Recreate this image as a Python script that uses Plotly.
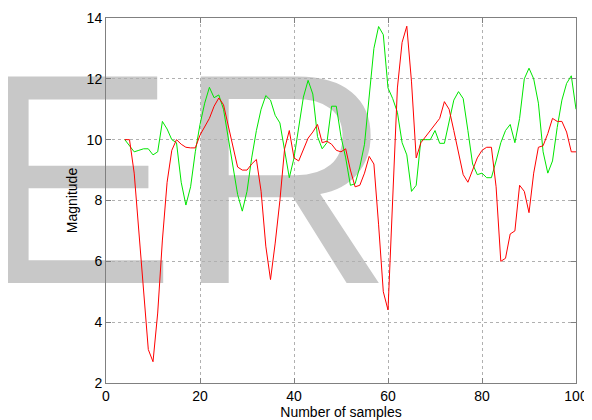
import plotly.graph_objects as go

# Sample index (x) and the two measured series
samples = list(range(4, 101))

red_values = [
    10.0, 10.0, 8.9, 7.0, 4.85, 3.1, 2.7, 4.3, 6.7, 8.6,          # 4-13
    9.65, 10.0, 9.85, 9.75, 9.73, 9.73, 10.15, 10.45, 10.7, 11.1,  # 14-23
    11.37, 11.15, 10.5, 9.8, 9.1, 9.0, 9.0, 9.2, 9.35, 8.3,        # 24-33
    6.5, 5.4, 6.6, 8.0, 9.7, 10.3, 9.4, 9.3, 9.7, 10.05,           # 34-43
    10.25, 10.5, 9.9, 9.95, 9.85, 9.65, 9.6, 9.7, 9.0, 8.45,       # 44-53
    8.5, 8.9, 9.45, 9.2, 7.2, 5.0, 4.4, 8.2, 11.7, 13.2,           # 54-63
    13.73, 11.9, 9.4, 9.9, 10.1, 10.3, 10.5, 10.7, 11.25, 11.0,    # 64-73
    10.3, 9.6, 8.85, 8.6, 9.0, 9.4, 9.65, 9.75, 9.75, 8.45,        # 74-83
    6.0, 6.1, 6.9, 7.0, 8.5, 8.3, 7.6, 8.9, 9.75, 9.8,             # 84-93
    10.2, 10.7, 10.6, 10.6, 10.25, 9.6, 9.6,                       # 94-100
]

green_values = [
    10.0, 9.8, 9.6, 9.65, 9.7, 9.7, 9.5, 9.6, 10.6, 10.35,         # 4-13
    10.0, 9.9, 8.6, 7.85, 8.45, 9.6, 10.5, 11.2, 11.72, 11.38,     # 14-23
    11.47, 11.0, 10.1, 9.1, 8.2, 7.65, 8.3, 9.4, 10.3, 11.0,       # 24-33
    11.45, 11.3, 10.8, 10.55, 9.6, 8.75, 9.4, 10.4, 11.4, 11.95,   # 34-43
    11.5, 10.1, 9.7, 9.9, 11.1, 11.1, 10.1, 9.4, 8.5, 8.55,        # 44-53
    9.1, 9.85, 11.5, 13.0, 13.72, 13.45, 11.7, 11.35, 10.9, 9.9,   # 54-63
    9.5, 8.3, 8.5, 10.0, 10.0, 10.0, 10.3, 9.88, 9.88, 10.65,      # 64-73
    11.3, 11.58, 11.35, 10.3, 9.2, 8.85, 8.9, 8.75, 8.75, 9.3,     # 74-83
    9.9, 10.3, 10.5, 9.9, 10.7, 12.0, 12.35, 12.0, 11.2, 9.6,      # 84-93
    8.9, 9.3, 10.4, 11.3, 11.85, 12.1, 11.0,                       # 94-100
]

x_ticks = [0, 20, 40, 60, 80, 100]
y_ticks = [2, 4, 6, 8, 10, 12, 14]

watermark_text = "ER"

FONT = "Liberation Sans, Arial, Helvetica, sans-serif"

fig = go.Figure()
fig.add_trace(go.Scatter(x=samples, y=green_values, mode="lines",
                         line=dict(color="#00e600", width=1), showlegend=False))
fig.add_trace(go.Scatter(x=samples, y=red_values, mode="lines",
                         line=dict(color="#ff0000", width=1), showlegend=False))

axis_common = dict(
    showline=True, linecolor="#808080", linewidth=1, mirror="ticks",
    ticks="inside", ticklen=5, tickcolor="#808080",
    showgrid=True, gridcolor="#b0b0b0", griddash="dot", gridwidth=1,
    zeroline=False, tickfont=dict(family=FONT, size=14, color="#000000"),
)

# The page body has an 8px default margin, so the figure is sized to fit
# the 592x420 window and its margins are offset accordingly.
fig.update_layout(
    width=584, height=412, autosize=False,
    margin=dict(l=98, r=16, t=10, b=37, pad=0),
    paper_bgcolor="#ffffff", plot_bgcolor="#ffffff",
    font=dict(family=FONT, size=14, color="#000000"),
    xaxis=dict(range=[0, 100], tickvals=x_ticks, automargin=False,
               title=dict(text="Number of samples", font=dict(family=FONT, size=14), standoff=2),
               **axis_common),
    yaxis=dict(range=[2, 14], tickvals=y_ticks, automargin=False,
               title=dict(text="Magnitude", font=dict(family=FONT, size=14), standoff=5),
               **axis_common),
    shapes=[dict(
        type="rect", xref="paper", yref="paper",
        x0=-0.283, x1=0.9, y0=0.0, y1=1.0959,
        line=dict(width=0), fillcolor="rgba(0,0,0,0)", layer="below",
        label=dict(text=watermark_text, textposition="top left",
                   xanchor="left", yanchor="top", padding=0,
                   font=dict(family=FONT, size=300, color="#c8c8c8")),
    )],
)

fig.write_html("out.html", config={"displayModeBar": False})
